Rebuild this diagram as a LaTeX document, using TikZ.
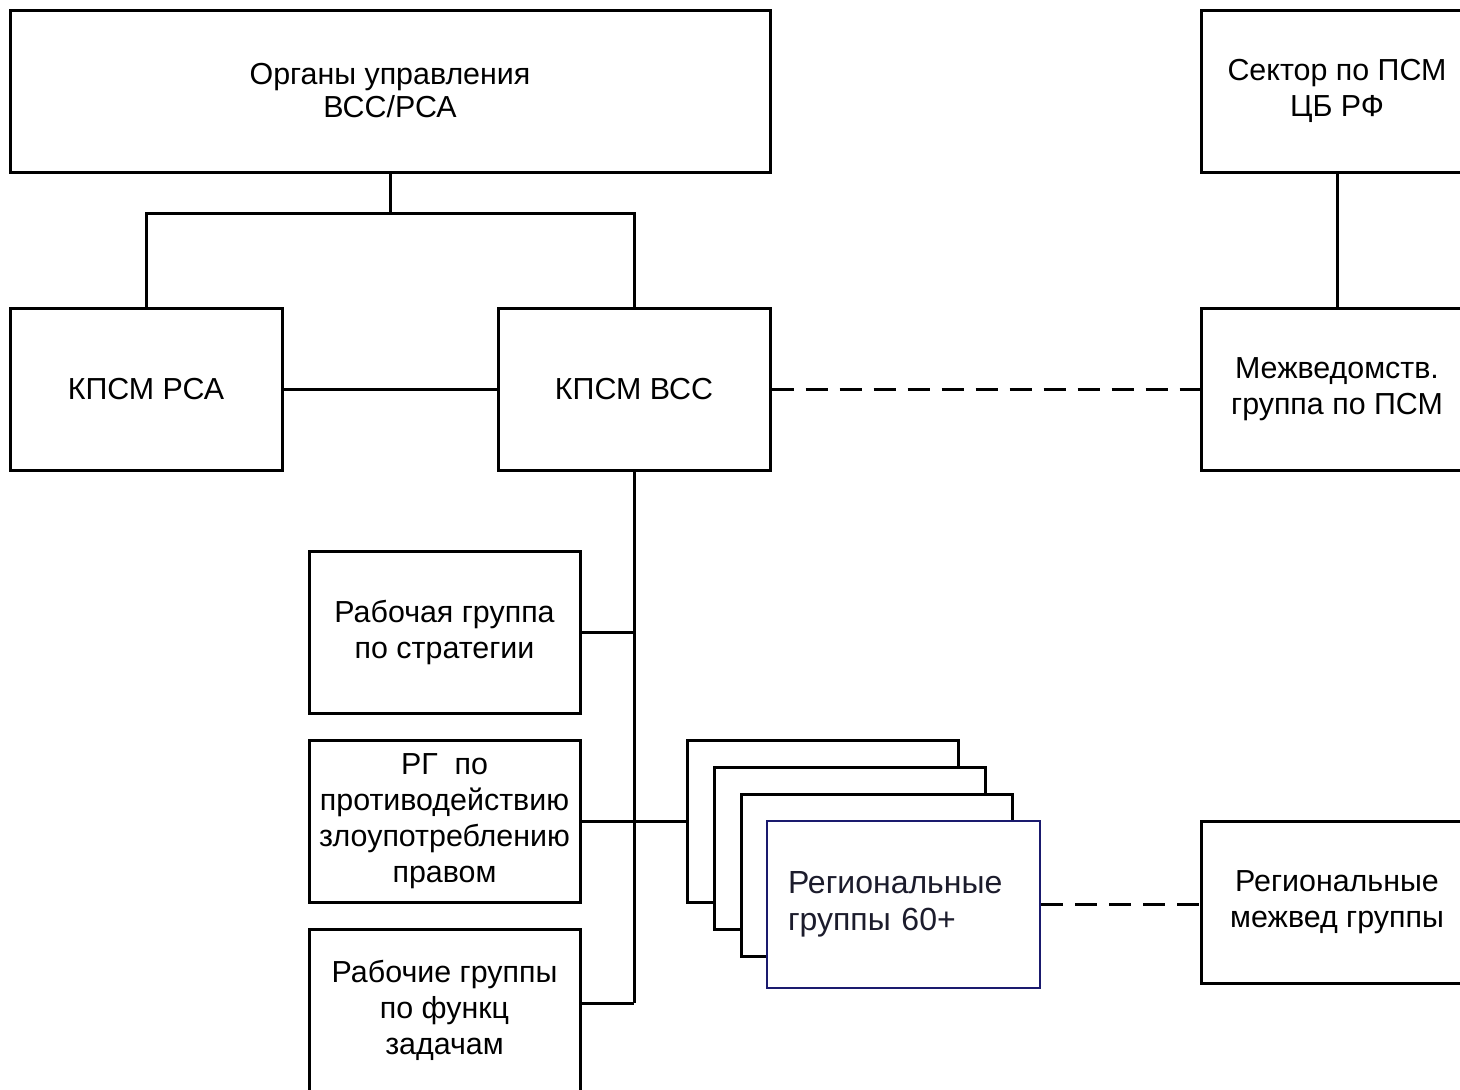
\documentclass[tikz,border=0pt]{standalone}
\usepackage{fontspec}
\setmainfont{Liberation Sans}

\definecolor{navyline}{HTML}{1A1A6E}
\definecolor{regtext}{HTML}{1C1C2C}

\tikzset{
  orgbox/.style={draw, line width=1.5pt, fill=white, align=center,
    minimum width=136pt, minimum height=81pt, inner sep=0pt,
    font=\fontsize{15.2}{18}\selectfont},
  widebox/.style={orgbox, minimum width=380pt, font=\fontsize{15.2}{16.5}\selectfont},
  groupbox/.style={orgbox, minimum width=135.5pt},
  frontbox/.style={groupbox, draw=navyline, line width=1pt, text=regtext,
    align=left, text width=115.5pt, inner xsep=10.5pt, minimum height=83.5pt,
    font=\fontsize{16}{18.5}\selectfont},
  link/.style={line width=1.5pt},
  dashlink/.style={link, dash pattern=on 11pt off 6pt},
}

\begin{document}
\begin{tikzpicture}[x=0.5pt,y=-0.5pt]
  \useasboundingbox (0,0) rectangle (1460,1089);
  \clip (0,0) rectangle (1460,1089);

  % top level
  \node[widebox] (organy) at (390,91) {Органы управления\\ВСС/РСА};
  \node[orgbox] (sektor) at (1337,91) {Сектор по ПСМ\\ЦБ РФ};

  % committees
  \node[orgbox] (kpsmrsa) at (146,389) {КПСМ РСА};
  \node[orgbox] (kpsmvss) at (634,389) {КПСМ ВСС};
  \node[orgbox] (mezhved) at (1337,389) {Межведомств.\\группа по ПСМ};

  % working groups
  \node[groupbox] (strateg) at (444.5,632) {Рабочая группа\\по стратегии};
  \node[groupbox] (zloup) at (444.5,821) {РГ\ \ по\\противодействию\\злоупотреблению\\правом};
  \node[groupbox] (funkc) at (444.5,1010) {Рабочие группы\\по функц\\задачам};

  % regional groups (stack)
  \node[groupbox] (reg1) at (823,821) {};
  \node[groupbox] (reg2) at (850,848) {};
  \node[groupbox] (reg3) at (877,875) {};
  \node[frontbox] (regfront) at (903.5,904.5) {Региональные\\группы 60+};
  \node[orgbox] (regmezh) at (1337,902) {Региональные\\межвед группы};

  \coordinate (fork) at (390,213);
  \coordinate (trunkend) at (634,1003);

  \draw[link] (organy.south) -- (fork);
  \draw[link] (kpsmrsa.north) |- (fork) -| (kpsmvss.north);
  \draw[link] (kpsmrsa) -- (kpsmvss);
  \draw[dashlink] (kpsmvss) -- (mezhved);
  \draw[link] (sektor) -- (mezhved);

  \draw[link] (kpsmvss.south) -- (trunkend);
  \draw[link] (strateg.east) -- (strateg.east -| trunkend);
  \draw[link] (zloup) -- (reg1);
  \draw[link] (funkc.east |- trunkend) -- (trunkend);
  \draw[dashlink] (regfront) -- (regfront -| regmezh.west);
\end{tikzpicture}
\end{document}
